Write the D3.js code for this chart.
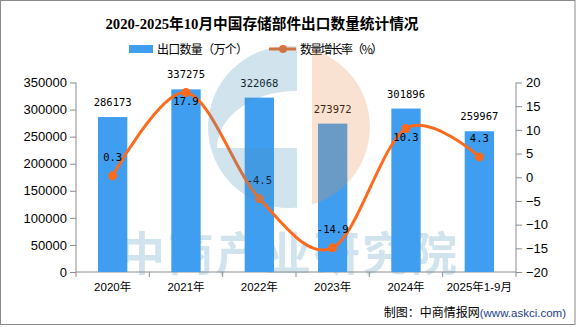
<!DOCTYPE html>
<html><head><meta charset="utf-8">
<script src="https://cdn.jsdelivr.net/npm/d3@7/dist/d3.min.js"></script>
<style>body{margin:0;background:#fff}svg{display:block}</style>
</head><body>
<svg id="c" width="576" height="327"></svg>
<script>
const categories = ["2020年","2021年","2022年","2023年","2024年","2025年1-9月"];
const exportQty = [286173, 337275, 322068, 273972, 301896, 259967];
const growthRate = [0.3, 17.9, -4.5, -14.9, 10.3, 4.3];
const leftTicks = [0,50000,100000,150000,200000,250000,300000,350000];
const rightTicks = [-20,-15,-10,-5,0,5,10,15,20];
const title = "2020-2025年10月中国存储部件出口数量统计情况";
const legendBar = "出口数量（万个）";
const legendLine = "数量增长率（%）";

const svg = d3.select("#c");
const W = 576, H = 327;
const m = {l:76, r:516, t:82.5, b:272};
const barColor = "#3f9ef0", lineColor = "#fd6a1c", axisColor = "#8c8c8c";
const sans = "'Liberation Sans', Arial, 'Noto Sans CJK SC', sans-serif";
const mono = "'DejaVu Sans Mono', monospace";

svg.append("rect").attr("x",0.5).attr("y",0.5).attr("width",W-1.5).attr("height",324)
  .attr("fill","#fff").attr("stroke","#8a8a8a");

const x = d3.scaleBand().domain(categories).range([m.l,m.r]).paddingInner(0.6).paddingOuter(0.3);
const yL = d3.scaleLinear().domain([0,350000]).range([m.b,m.t]);
const yR = d3.scaleLinear().domain([-20,20]).range([m.b,m.t]);
const cx = c => x(c) + x.bandwidth()/2;

// watermark text (behind bars)
svg.append("text").attr("x",288).attr("y",270).attr("text-anchor","middle")
  .attr("font-family","'Noto Sans CJK SC', sans-serif").attr("font-weight","bold")
  .attr("font-size",46).attr("textLength",338).attr("lengthAdjust","spacing")
  .attr("fill","rgb(75,147,187)").attr("opacity",0.25).text("中商产业研究院");

// title
svg.append("text").attr("x",262).attr("y",29).attr("text-anchor","middle")
  .attr("font-family","'Liberation Serif','Noto Sans CJK SC', sans-serif").attr("font-weight","bold")
  .attr("font-size",15).attr("textLength",313).attr("lengthAdjust","spacingAndGlyphs").text(title);

// legend
const lg = svg.append("g").attr("font-family","'Noto Sans CJK SC', sans-serif").attr("font-size",12);
lg.append("rect").attr("x",129).attr("y",45).attr("width",24).attr("height",8).attr("fill",barColor);
lg.append("text").attr("x",157).attr("y",53.5).attr("textLength",91).text(legendBar);
lg.append("line").attr("x1",269).attr("x2",296).attr("y1",49).attr("y2",49).attr("stroke",lineColor).attr("stroke-width",3);
lg.append("circle").attr("cx",283).attr("cy",49).attr("r",4).attr("fill",lineColor);
lg.append("text").attr("x",300).attr("y",53.5).attr("textLength",83).text(legendLine);

// axes
const axL = svg.append("g").attr("transform",`translate(${m.l},0)`)
  .call(d3.axisLeft(yL).tickValues(leftTicks).tickSize(6).tickPadding(3).tickFormat(d3.format("d")));
const axR = svg.append("g").attr("transform",`translate(${m.r},0)`)
  .call(d3.axisRight(yR).tickValues(rightTicks).tickSize(6).tickPadding(4).tickFormat(d => d < 0 ? "−" + Math.abs(d) : d));
const axB = svg.append("g").attr("transform",`translate(0,${m.b})`)
  .call(d3.axisBottom(x).tickSize(0).tickPadding(11));
[axL, axR, axB].forEach(a => {
  a.select(".domain").attr("stroke",axisColor);
  a.selectAll(".tick line").attr("stroke",axisColor);
  a.selectAll("text").attr("font-family",sans).attr("fill","#000");
});
axL.selectAll("text").attr("font-size",13);
axR.selectAll("text").attr("font-size",13);
axB.selectAll("text").attr("font-size",11.5);
axL.select(".domain").attr("d",`M0,${m.t}V${m.b+5}`);
axR.select(".domain").attr("d",`M0,${m.t}V${m.b+5}`);
axB.select(".domain").attr("d",`M${m.l},0H${m.r}`);
// category boundary ticks
const step = x.step(), off = (step - x.bandwidth())/2;
axB.selectAll(".bnd").data(categories.slice(1)).join("line").attr("class","bnd")
  .attr("x1",c => x(c)-off).attr("x2",c => x(c)-off).attr("y1",0).attr("y2",5).attr("stroke",axisColor);

// bars
svg.append("g").selectAll("rect").data(categories).join("rect")
  .attr("x",c => x(c)).attr("width",x.bandwidth())
  .attr("y",(c,i) => yL(exportQty[i])).attr("height",(c,i) => m.b - yL(exportQty[i]))
  .attr("fill",barColor);

// bar labels
svg.append("g").selectAll("text").data(categories).join("text")
  .attr("x",c => cx(c)).attr("y",(c,i) => yL(exportQty[i]) - 11)
  .attr("text-anchor","middle").attr("font-family",mono).attr("font-size",10.5)
  .text((c,i) => exportQty[i]);

// line
const pts = categories.map((c,i) => [cx(c), yR(growthRate[i])]);
svg.append("path").attr("d",d3.line().curve(d3.curveCardinal.tension(0))(pts))
  .attr("fill","none").attr("stroke",lineColor).attr("stroke-width",3);
svg.append("g").selectAll("circle").data(pts).join("circle")
  .attr("cx",d => d[0]).attr("cy",d => d[1]).attr("r",4.5).attr("fill",lineColor);
svg.append("g").selectAll("text").data(categories).join("text")
  .attr("x",c => cx(c))
  .attr("y",(c,i) => {
    const py = yR(growthRate[i]), top = yL(exportQty[i]);
    return (py - top < 22) ? py + 13 : py - 15;
  })
  .attr("text-anchor","middle").attr("font-family",mono).attr("font-size",10.5)
  .text((c,i) => growthRate[i]);

// watermark logo (on top, translucent)
const C = [289,127], R = 81, splitB = 297, splitP = 312, holeBottom = 148;
const defs = svg.append("defs");
const mk = defs.append("mask").attr("id","blueMask");
mk.append("rect").attr("x",0).attr("y",0).attr("width",splitB).attr("height",H).attr("fill","#fff");
mk.append("path").attr("d",`M${splitB},${holeBottom} L${splitB-80},${holeBottom} A80,57 0 0 1 ${splitB},${holeBottom-57} Z`).attr("fill","#000");
const mkP = defs.append("mask").attr("id","pinkMask");
mkP.append("rect").attr("x",splitP).attr("y",0).attr("width",W).attr("height",H).attr("fill","#fff");
const wm = svg.append("g").attr("opacity",0.25);
wm.append("circle").attr("cx",C[0]).attr("cy",C[1]).attr("r",R).attr("fill","rgb(75,147,187)").attr("mask","url(#blueMask)");
wm.append("circle").attr("cx",C[0]).attr("cy",C[1]).attr("r",R).attr("fill","rgb(235,143,75)").attr("mask","url(#pinkMask)");

// footer
const ft = svg.append("text").attr("x",566).attr("y",317).attr("text-anchor","end")
  .attr("font-family","'Noto Sans CJK SC', sans-serif").attr("font-size",12);
ft.append("tspan").attr("fill","#000").text("制图：中商情报网");
ft.append("tspan").attr("fill","#23408e").attr("font-family",sans).attr("font-size",11.5).text("(www.askci.com)");
</script>
</body></html>
